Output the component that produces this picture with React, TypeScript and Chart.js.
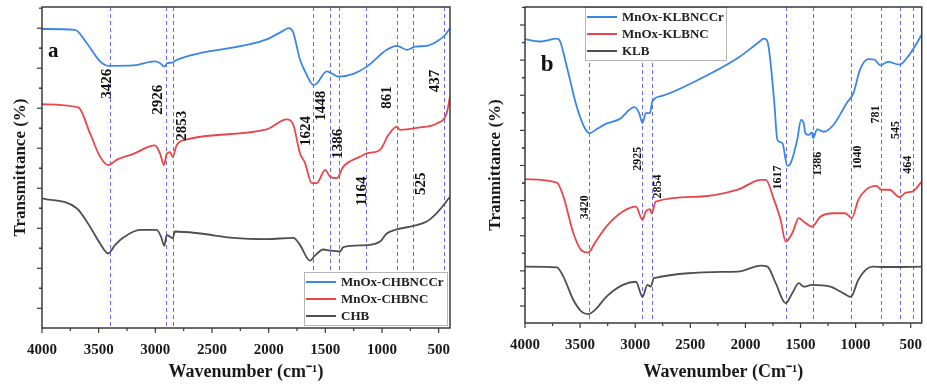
import React, { useEffect, useRef } from 'react';
import { Chart, registerables } from 'chart.js';
Chart.register(...registerables);

const FONT = '"Liberation Serif", "Times New Roman", serif';

// ---------- shared axis ----------
const xTickValues = [4000, 3500, 3000, 2500, 2000, 1500, 1000, 500];

// ---------- panel a ----------
const aCCrWave = [4000, 3709, 3606, 3488, 3415, 3194, 3003, 2960, 2921, 2895, 2853, 2811, 2017, 1870, 1826, 1787, 1723, 1679, 1605, 1575, 1487, 1450, 1385, 1253, 1134, 958, 869, 781, 708, 605, 517, 443, 400];
const aCCrT = [79.8, 79.6, 76.3, 71.7, 70.6, 70.7, 71.7, 71.3, 70.4, 71.3, 71.4, 72.1, 77.2, 79.4, 80.0, 79.2, 72.1, 69.2, 65.8, 66.2, 69.2, 68.8, 67.9, 68.6, 70.4, 74.6, 75.6, 74.6, 75.4, 75.6, 76.7, 78.3, 80.0];
const aNCWave = [4000, 3680, 3576, 3488, 3415, 3341, 3194, 3003, 2959, 2923, 2900, 2870, 2847, 2811, 2723, 2017, 1840, 1782, 1723, 1679, 1620, 1575, 1502, 1458, 1399, 1341, 1193, 1134, 1017, 944, 869, 840, 664, 517, 429, 400];
const aNCT = [61.0, 60.2, 53.7, 47.9, 45.8, 47.1, 48.6, 50.7, 48.7, 45.8, 48.6, 49.0, 47.9, 50.8, 52.2, 54.7, 57.2, 55.8, 48.7, 46.3, 41.3, 41.3, 44.6, 42.9, 42.5, 45.4, 47.9, 48.7, 49.6, 53.3, 55.4, 54.6, 55.2, 56.2, 58.8, 62.9];
const aRawWave = [4000, 3694, 3576, 3488, 3415, 3356, 3282, 3135, 2988, 2950, 2921, 2900, 2870, 2847, 2826, 2606, 2312, 2017, 1782, 1723, 1635, 1600, 1517, 1458, 1370, 1341, 1134, 1017, 958, 869, 723, 605, 517, 443, 400];
const aRawT = [37.5, 35.0, 30.4, 26.2, 23.7, 25.8, 27.7, 29.6, 29.6, 27.9, 25.6, 28.3, 27.9, 27.5, 29.2, 28.7, 27.6, 27.3, 27.6, 25.8, 21.9, 22.9, 24.7, 24.4, 24.2, 25.3, 25.8, 26.7, 28.7, 29.7, 30.6, 31.7, 33.8, 36.3, 37.9];
const aSeriesNames = ['MnOx-CHBNCCr', 'MnOx-CHBNC', 'CHB'];
const aLineWaves = [3400, 2908, 2841, 1605, 1458, 1379, 1143, 864, 723, 452];
const aPeakText = ['3426', '2926', '2853', '1624', '1448', '1386', '1164', '861', '525', '437'];
const aPeakWave = [3429, 2974, 2767, 1670, 1540, 1385, 1178, 958, 658, 531];
const aPeakT = [66.1, 62.1, 55.6, 54.3, 60.6, 51.1, 39.3, 62.7, 41.1, 66.8];
const aYTicks = [10, 20, 30, 40, 50, 60, 70, 80];

// ---------- panel b ----------
const bCCrWave = [4000, 3860, 3711, 3681, 3621, 3531, 3457, 3412, 3352, 3263, 3143, 3009, 2964, 2934, 2904, 2866, 2845, 2756, 2427, 2069, 1890, 1830, 1800, 1740, 1710, 1665, 1620, 1590, 1530, 1495, 1471, 1456, 1426, 1396, 1386, 1349, 1289, 1200, 1080, 1020, 961, 886, 826, 776, 707, 603, 513, 400];
const bCCrT = [86.0, 85.3, 86.1, 85.3, 78.2, 66.8, 60.6, 59.2, 60.3, 61.9, 63.2, 66.6, 64.9, 62.1, 64.9, 64.9, 68.2, 69.8, 74.4, 80.6, 84.8, 86.1, 85.3, 68.7, 57.3, 56.4, 49.9, 50.6, 57.3, 63.0, 62.0, 59.2, 58.7, 59.4, 57.8, 60.3, 59.6, 61.6, 67.8, 70.6, 77.2, 80.3, 80.1, 78.5, 79.5, 78.7, 81.5, 87.2];
const bNCWave = [4000, 3711, 3651, 3561, 3487, 3427, 3367, 3263, 3112, 2993, 2934, 2904, 2866, 2851, 2814, 2427, 2069, 1860, 1815, 1740, 1680, 1635, 1575, 1516, 1471, 1396, 1321, 1200, 1095, 1035, 976, 901, 811, 766, 692, 603, 543, 484, 400];
const bNCT = [46.1, 45.1, 41.1, 30.7, 25.8, 25.2, 27.9, 32.6, 36.9, 38.3, 34.5, 36.9, 37.6, 36.4, 39.7, 41.1, 43.1, 45.9, 45.9, 40.2, 34.5, 28.3, 30.7, 35.0, 34.0, 32.6, 35.4, 36.4, 36.4, 35.0, 40.2, 43.2, 44.2, 43.1, 43.1, 41.0, 42.3, 42.6, 45.4];
const bRawWave = [4000, 3711, 3651, 3561, 3487, 3427, 3352, 3263, 3112, 2993, 2934, 2889, 2860, 2830, 2069, 1860, 1800, 1725, 1635, 1575, 1516, 1471, 1396, 1230, 1110, 1044, 976, 901, 841, 750, 650, 400];
const bRawT = [21.2, 21.0, 18.3, 11.7, 8.4, 7.7, 9.3, 12.6, 16.0, 16.9, 12.6, 16.0, 15.5, 17.9, 19.8, 21.5, 21.2, 16.5, 10.8, 13.6, 16.5, 15.5, 16.0, 15.5, 13.6, 12.6, 17.4, 20.5, 21.2, 21.1, 21.1, 21.2];
const bSeriesNames = ['MnOx-KLBNCCr', 'MnOx-KLBNC', 'KLB'];
const bLineWaves = [3418, 2934, 2850, 1629, 1390, 1038, 774, 595, 476];
const bPeakText = ['3420', '2925', '2854', '1617', '1386', '1040', '781', '545', '464'];
const bPeakWave = [3457, 2978, 2790, 1701, 1345, 978, 814, 634, 527];
const bPeakT = [38.1, 51.9, 44.0, 46.6, 50.5, 52.3, 64.5, 60.1, 50.2];
const bYTicks = [10, 20, 30, 40, 50, 60, 70, 80, 90];

const COLORS = ['#3a86e6', '#e8464a', '#4f4f4f'];

type Spec = {
  left: number; width: number;
  padTop: number; padRight: number; yAxisW: number; xAxisH: number;
  yMin: number; yMax: number; yTicks: number[];
  yTitle: string; yTitlePad: number; xTitle: string;
  waves: number[][]; ts: number[][]; names: string[];
  lines: number[]; peakText: string[]; peakWave: number[]; peakT: number[]; peakFont: number;
  letter: string; letterWave: number; letterT: number; letterFont: number;
  legend: { anchor: 'br' | 'tl'; dx: number; dy: number; w: number; h: number };
};

function makeDeco(s: Spec) {
  return {
    id: 'deco',
    beforeDatasetsDraw(chart: any) {
      const { ctx, chartArea: ca, scales } = chart;
      ctx.save();
      ctx.strokeStyle = 'rgba(80,80,230,0.85)';
      ctx.lineWidth = 1;
      ctx.setLineDash([4, 3]);
      for (const w of s.lines) {
        const px = Math.round(scales.x.getPixelForValue(w)) + 0.5;
        ctx.beginPath();
        ctx.moveTo(px, ca.top);
        ctx.lineTo(px, ca.bottom);
        ctx.stroke();
      }
      ctx.restore();
    },
    afterDatasetsDraw(chart: any) {
      const { ctx, scales } = chart;
      ctx.save();
      ctx.fillStyle = '#111';
      ctx.font = `bold ${s.peakFont}px ${FONT}`;
      ctx.textAlign = 'center';
      ctx.textBaseline = 'middle';
      s.peakText.forEach((t, i) => {
        const px = scales.x.getPixelForValue(s.peakWave[i]);
        const py = scales.y.getPixelForValue(s.peakT[i]);
        ctx.save();
        ctx.translate(px, py);
        ctx.rotate(-Math.PI / 2);
        ctx.fillText(t, 0, 0);
        ctx.restore();
      });
      ctx.font = `bold ${s.letterFont}px ${FONT}`;
      ctx.fillText(s.letter, scales.x.getPixelForValue(s.letterWave), scales.y.getPixelForValue(s.letterT));
      ctx.restore();
    },
    afterDraw(chart: any) {
      const { ctx, chartArea: ca, scales } = chart;
      ctx.save();
      const L = s.legend;
      const bx = L.anchor === 'br' ? ca.right - L.dx - L.w : ca.left + L.dx;
      const by = L.anchor === 'br' ? ca.bottom - L.dy - L.h : ca.top + L.dy;
      ctx.fillStyle = '#fff';
      ctx.fillRect(bx, by, L.w, L.h);
      ctx.strokeStyle = '#b5b5b5';
      ctx.lineWidth = 1;
      ctx.strokeRect(Math.round(bx) + 0.5, Math.round(by) + 0.5, L.w, L.h);
      ctx.font = `bold 13px ${FONT}`;
      ctx.textAlign = 'left';
      ctx.textBaseline = 'middle';
      s.names.forEach((n, i) => {
        const yy = by + 10 + i * 17;
        ctx.strokeStyle = COLORS[i];
        ctx.lineWidth = 2;
        ctx.beginPath();
        ctx.moveTo(bx + 2, yy);
        ctx.lineTo(bx + 32, yy);
        ctx.stroke();
        ctx.fillStyle = '#222';
        ctx.fillText(n, bx + 37, yy + 1);
      });
      ctx.strokeStyle = '#3a3a3a';
      ctx.lineWidth = 1.5;
      ctx.strokeRect(ca.left, ca.top, ca.right - ca.left, ca.bottom - ca.top);
      ctx.lineWidth = 1.2;
      const x = scales.x, y = scales.y;
      xTickValues.forEach((v) => {
        const px = x.getPixelForValue(v);
        ctx.beginPath(); ctx.moveTo(px, ca.bottom); ctx.lineTo(px, ca.bottom + 5); ctx.stroke();
        const m = x.getPixelForValue(v - 250);
        if (m <= ca.right) { ctx.beginPath(); ctx.moveTo(m, ca.bottom); ctx.lineTo(m, ca.bottom + 3); ctx.stroke(); }
      });
      const step = s.yTicks[1] - s.yTicks[0];
      s.yTicks.forEach((v) => {
        const py = y.getPixelForValue(v);
        ctx.beginPath(); ctx.moveTo(ca.left, py); ctx.lineTo(ca.left - 5, py); ctx.stroke();
        [v - step / 2, v + step / 2].forEach((mv) => {
          if (mv >= s.yMin && mv <= s.yMax) {
            const mp = y.getPixelForValue(mv);
            ctx.beginPath(); ctx.moveTo(ca.left, mp); ctx.lineTo(ca.left - 3, mp); ctx.stroke();
          }
        });
      });
      ctx.restore();
    },
  };
}

function buildConfig(s: Spec): any {
  return {
    type: 'line',
    data: {
      datasets: s.names.map((n, i) => ({
        label: n,
        data: s.waves[i].map((w, j) => ({ x: w, y: s.ts[i][j] })),
        borderColor: COLORS[i],
        borderWidth: 1.8,
        pointRadius: 0,
        fill: false,
        cubicInterpolationMode: 'monotone',
      })),
    },
    options: {
      responsive: false,
      animation: false,
      devicePixelRatio: 1,
      layout: { padding: { top: s.padTop, right: s.padRight, left: 0, bottom: 0 } },
      plugins: { legend: { display: false }, tooltip: { enabled: false } },
      scales: {
        x: {
          type: 'linear', reverse: true, min: 400, max: 4000,
          afterBuildTicks: (sc: any) => { sc.ticks = xTickValues.map((v) => ({ value: v })); },
          afterFit: (sc: any) => { sc.height = s.xAxisH; },
          grid: { display: false }, border: { display: false },
          ticks: {
            autoSkip: false, maxRotation: 0, padding: 5, color: '#1a1a1a',
            font: { family: FONT, size: 15, weight: 'bold' },
            callback: (v: any) => String(v),
          },
          title: { display: true, text: s.xTitle, color: '#1a1a1a', font: { family: FONT, size: 18, weight: 'bold' }, padding: { top: 0, bottom: 3 } },
        },
        y: {
          type: 'linear', min: s.yMin, max: s.yMax,
          afterBuildTicks: (sc: any) => { sc.ticks = s.yTicks.map((v) => ({ value: v })); },
          afterFit: (sc: any) => { sc.width = s.yAxisW; },
          grid: { display: false }, border: { display: false },
          ticks: { display: false },
          title: { display: true, text: s.yTitle, color: '#1a1a1a', font: { family: FONT, size: 17, weight: 'bold' }, padding: { top: s.yTitlePad, bottom: 0 } },
        },
      },
    },
    plugins: [makeDeco(s)],
  };
}

const specA: Spec = {
  left: 0, width: 462, padTop: 7, padRight: 12, yAxisW: 42, xAxisH: 58,
  yMin: 5.08, yMax: 85.3, yTicks: aYTicks,
  yTitle: 'Transmittance (%)', yTitlePad: 10, xTitle: 'Wavenumber (cm⁻¹)',
  waves: [aCCrWave, aNCWave, aRawWave], ts: [aCCrT, aNCT, aRawT], names: aSeriesNames,
  lines: aLineWaves, peakText: aPeakText, peakWave: aPeakWave, peakT: aPeakT, peakFont: 15,
  letter: 'a', letterWave: 3900, letterT: 74.1, letterFont: 21,
  legend: { anchor: 'br', dx: 3, dy: 3, w: 143, h: 53 },
};

const specB: Spec = {
  left: 462, width: 465, padTop: 7, padRight: 1, yAxisW: 63, xAxisH: 63,
  yMin: 5.16, yMax: 95.12, yTicks: bYTicks,
  yTitle: 'Tranmittance (%)', yTitlePad: 23, xTitle: 'Wavenumber (Cm⁻¹)',
  waves: [bCCrWave, bNCWave, bRawWave], ts: [bCCrT, bNCT, bRawT], names: bSeriesNames,
  lines: bLineWaves, peakText: bPeakText, peakWave: bPeakWave, peakT: bPeakT, peakFont: 12,
  letter: 'b', letterWave: 3800, letterT: 78.7, letterFont: 23,
  legend: { anchor: 'tl', dx: 60, dy: 0, w: 141, h: 53 },
};

function Panel({ spec }: { spec: Spec }) {
  const ref = useRef<HTMLCanvasElement>(null);
  useEffect(() => {
    const chart = new Chart(ref.current as HTMLCanvasElement, buildConfig(spec));
    return () => chart.destroy();
  }, [spec]);
  return (
    <canvas
      ref={ref}
      width={spec.width}
      height={386}
      style={{ position: 'absolute', left: spec.left, top: 0, width: spec.width, height: 386 }}
    />
  );
}

export default function App() {
  return (
    <div style={{ position: 'fixed', left: 0, top: 0, width: 927, height: 386, background: '#fff', overflow: 'hidden' }}>
      <Panel spec={specA} />
      <Panel spec={specB} />
    </div>
  );
}
